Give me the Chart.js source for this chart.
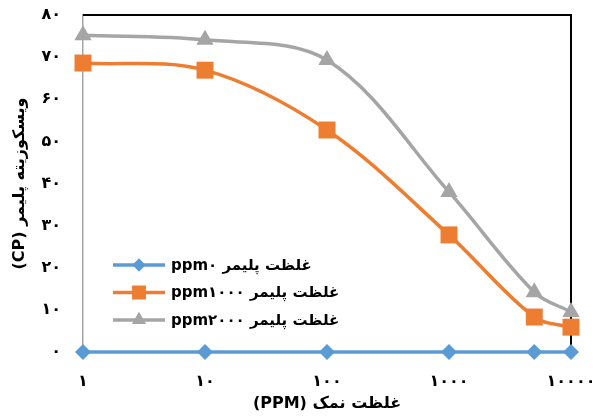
<!DOCTYPE html>
<html>
<head>
<meta charset="utf-8">
<script src="https://cdn.jsdelivr.net/npm/chart.js@4.4.0/dist/chart.umd.min.js"></script>
<style>
    html, body { margin: 0; padding: 0; background: #fff; }
    #chart { display: block; direction: rtl; }
</style>
</head>
<body>
<canvas id="chart" width="598" height="418"></canvas>
<script>
// salt concentration (ppm), log axis
const saltPpm = [1, 10, 100, 1000, 5000, 10000];
const seriesNames = ['غلظت پلیمر ppm۰', 'غلظت پلیمر ppm۱۰۰۰', 'غلظت پلیمر ppm۲۰۰۰'];
const polymer0 = [0, 0, 0, 0, 0, 0];
const polymer1000 = [68.6, 66.9, 52.7, 27.8, 8.3, 5.9];
const polymer2000 = [75.2, 74.1, 69.3, 38.0, 14.2, 9.5];

const xTickValues = [1, 10, 100, 1000, 10000];
const xTickLabels = ['۱', '۱۰', '۱۰۰', '۱۰۰۰', '۱۰۰۰۰'];
const yTickLabels = ['۰', '۱۰', '۲۰', '۳۰', '۴۰', '۵۰', '۶۰', '۷۰', '۸۰'];

const FONT = "'DejaVu Sans', 'Open Sans', sans-serif";
const colors = ['#5B9BD5', '#ED7D31', '#A5A5A5'];
const pointStyles = ['rectRot', 'rect', 'triangle'];
const pointSizes = [8, 12, 10];

const toPoints = vals => vals.map((v, i) => ({x: saltPpm[i], y: v}));

const makeSet = (label, vals, i) => ({
    label: label,
    data: toPoints(vals),
    borderColor: colors[i],
    backgroundColor: colors[i],
    borderWidth: 3.5,
    pointStyle: pointStyles[i],
    pointRadius: pointSizes[i],
    pointBorderWidth: 0,
    pointBackgroundColor: colors[i],
    tension: 0.34,
    clip: false
});

// top + right frame lines
const frame = {
    id: 'frame',
    beforeDatasetsDraw(chart) {
        const {ctx, chartArea: a} = chart;
        ctx.save();
        ctx.strokeStyle = '#000';
        ctx.lineWidth = 2;
        ctx.beginPath();
        ctx.moveTo(a.left, a.top);
        ctx.lineTo(a.right, a.top);
        ctx.lineTo(a.right, a.bottom);
        ctx.stroke();
        ctx.restore();
    }
};

// legend inside plot, bottom-left
const innerLegend = {
    id: 'innerLegend',
    afterDatasetsDraw(chart) {
        const ctx = chart.ctx;
        ctx.save();
        chart.data.datasets.forEach((ds, i) => {
            const y = 265 + i * 27.5;
            ctx.strokeStyle = ds.borderColor;
            ctx.lineWidth = 3.5;
            ctx.beginPath();
            ctx.moveTo(113, y);
            ctx.lineTo(165, y);
            ctx.stroke();
            ctx.fillStyle = ds.backgroundColor;
            Chart.helpers.drawPoint(ctx, {pointStyle: ds.pointStyle, radius: ds.pointRadius * 0.8, borderWidth: 0}, 139, y);
            ctx.fill();
            ctx.fillStyle = '#000';
            ctx.font = 'bold 15px ' + FONT;
            ctx.textAlign = 'left';
            ctx.textBaseline = 'middle';
            ctx.fillText(ds.label, 171, y + 1);
        });
        ctx.restore();
    }
};

const ctx = document.getElementById('chart').getContext('2d');
const chart = new Chart(ctx, {
    type: 'line',
    data: {
        datasets: [
            makeSet(seriesNames[0], polymer0, 0),
            makeSet(seriesNames[1], polymer1000, 1),
            makeSet(seriesNames[2], polymer2000, 2)
        ]
    },
    options: {
        responsive: false,
        animation: false,
        devicePixelRatio: 1,
        layout: {padding: {left: 0, top: 15, right: 27, bottom: 0}},
        plugins: {
            legend: {display: false},
            tooltip: {enabled: false}
        },
        scales: {
            x: {
                type: 'logarithmic',
                min: 1,
                max: 10000,
                grid: {display: false, drawTicks: false},
                border: {display: true, color: '#A6A6A6', width: 1.5},
                afterBuildTicks: s => { s.ticks = xTickValues.map(v => ({value: v})); },
                afterFit: s => { s.height = 66; s.paddingLeft = 0; s.paddingRight = 0; },
                ticks: {
                    padding: 20,
                    maxRotation: 0,
                    autoSkip: false,
                    color: '#000',
                    font: {family: FONT, size: 16, weight: 'bold'},
                    callback: (v, i) => xTickLabels[i]
                },
                title: {
                    display: true,
                    text: 'غلظت نمک (PPM)',
                    color: '#000',
                    padding: {top: 0, bottom: 5},
                    font: {family: FONT, size: 16, weight: 'bold'}
                }
            },
            y: {
                min: 0,
                max: 80,
                grid: {display: false, drawTicks: false},
                border: {display: true, color: '#A6A6A6', width: 1.5},
                afterFit: s => { s.width = 83; s.paddingTop = 0; s.paddingBottom = 0; },
                ticks: {
                    stepSize: 10,
                    padding: 22,
                    color: '#000',
                    font: {family: FONT, size: 16, weight: 'bold'},
                    callback: (v, i) => yTickLabels[i]
                },
                title: {
                    display: true,
                    text: 'ویسکوزیته پلیمر (CP)',
                    color: '#000',
                    padding: {top: 10, bottom: 0},
                    font: {family: FONT, size: 16, weight: 'bold'}
                }
            }
        }
    },
    plugins: [frame, innerLegend]
});
</script>
</body>
</html>
